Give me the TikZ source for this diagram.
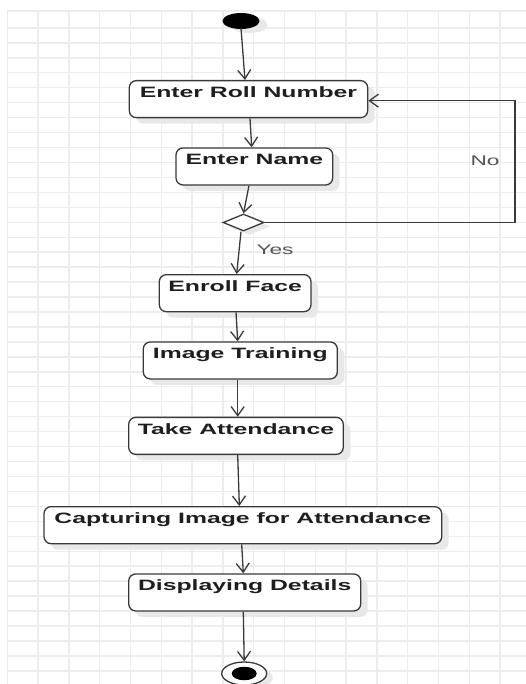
\documentclass[tikz,border=0pt]{standalone}
\usepackage{fontspec}
\setmainfont{Liberation Sans}
\usepackage{graphicx}
\usetikzlibrary{shapes.geometric,arrows.meta,shadows,calc}
\newcommand\acttxt[1]{\scalebox{1.65}[1]{#1}}
\definecolor{gridc}{HTML}{EDEDED}
\definecolor{linec}{HTML}{3A3A3A}
\definecolor{txtc}{HTML}{1E1E1E}
\definecolor{lblc}{HTML}{555555}
\begin{document}
\begin{tikzpicture}[x=1pt,y=-1pt,
  actbox/.style={draw=linec, line width=1.3pt, fill=white, rounded corners=7pt,
    inner sep=0pt, text height=17pt, text depth=20pt, anchor=north,
    text=txtc, font=\bfseries\fontsize{15}{15}\selectfont,
    drop shadow={shadow xshift=7pt, shadow yshift=-6pt, fill=black!9, opacity=1, rounded corners=7pt}},
  arr/.style={draw=linec, line width=1.3pt, -{Straight Barb[length=9pt,width=13pt,line width=1.3pt]}},
  lbl/.style={text=lblc, font=\fontsize{14}{14}\selectfont}
]
\useasboundingbox (0,0) rectangle (526,684);
\fill[white] (0,0) rectangle (526,684);
% grid
\foreach \k in {0,...,16} {\draw[gridc, line width=1.4pt] ({7.3+30.8*\k},11) -- ({7.3+30.8*\k},684);}
\draw[gridc, line width=1.4pt] (7.3,11) -- (526,11);
\foreach \k in {1,...,44} {\draw[gridc, line width=1.4pt] (7.3,{13+14.95*\k}) -- (526,{13+14.95*\k});}

% start
\node[ellipse, fill=black, minimum width=37pt, minimum height=16pt, inner sep=0pt,
  drop shadow={shadow xshift=8pt, shadow yshift=-4pt, fill=black!9, opacity=1}] (start) at (241,21) {};

% activities
\node[actbox, minimum width=238.4pt] (roll) at (248.5,80) {\acttxt{Enter Roll Number}};
\node[actbox, minimum width=156.7pt] (name) at (254.35,147.3) {\acttxt{Enter Name}};
\node[diamond, draw=linec, line width=1.3pt, fill=white, minimum width=41pt, minimum height=17pt, aspect=2.4, inner sep=0pt,
  drop shadow={shadow xshift=6pt, shadow yshift=-4pt, fill=black!9, opacity=1}] (dec) at (243.5,222.5) {};
\node[actbox, minimum width=151.7pt] (enroll) at (235.15,274) {\acttxt{Enroll Face}};
\node[actbox, minimum width=194pt] (train) at (240.3,341.3) {\acttxt{Image Training}};
\node[actbox, minimum width=214.6pt] (take) at (236,416.7) {\acttxt{Take Attendance}};
\node[actbox, minimum width=397.7pt] (capt) at (242.85,506) {\acttxt{Capturing Image for Attendance}};
\node[actbox, minimum width=232pt] (disp) at (244.7,573.3) {\acttxt{Displaying Details}};

% end
\node[ellipse, draw=linec, line width=1.3pt, fill=white, minimum width=45pt, minimum height=23pt, inner sep=0pt,
  drop shadow={shadow xshift=6pt, shadow yshift=-4pt, fill=black!9, opacity=1}] (fin) at (244.2,673.5) {};
\node[ellipse, fill=black, minimum width=25pt, minimum height=13.5pt, inner sep=0pt] (finin) at (244.2,673.5) {};

% connectors
\draw[arr] ([yshift=1pt]start.south) -- ([xshift=-3.5pt]roll.north);
\draw[arr] ([xshift=1.5pt]roll.south) -- ([xshift=-2.65pt]name.north);
\draw[arr] ([xshift=-5.35pt]name.south) -- (dec.north);
\draw[arr] ([xshift=-2.5pt]dec.south) -- ([xshift=1.5pt]enroll.north);
\draw[arr] ([xshift=0.85pt]enroll.south) -- ([xshift=-2.6pt]train.north);
\draw[arr] ([xshift=-2.6pt]train.south) -- ([xshift=1.7pt]take.north);
\draw[arr] ([xshift=1.7pt]take.south) -- ([xshift=-3.5pt]capt.north);
\draw[arr] ([xshift=-1.15pt]capt.south) -- ([xshift=-1.4pt]disp.north);
\draw[arr] ([xshift=-1.4pt]disp.south) -- (fin.north);

\coordinate (c1) at (515,222.5);
\coordinate (c2) at (515,100.7);
\draw[arr] (dec.east) -- (c1) -- (c2) -- (c2 -| roll.east);

% labels
\node[lbl] (no) at (485,160.7) {\scalebox{1.62}[1]{No}};
\node[lbl] (yes) at (275,249.5) {\scalebox{1.62}[1]{Yes}};
\end{tikzpicture}
\end{document}
